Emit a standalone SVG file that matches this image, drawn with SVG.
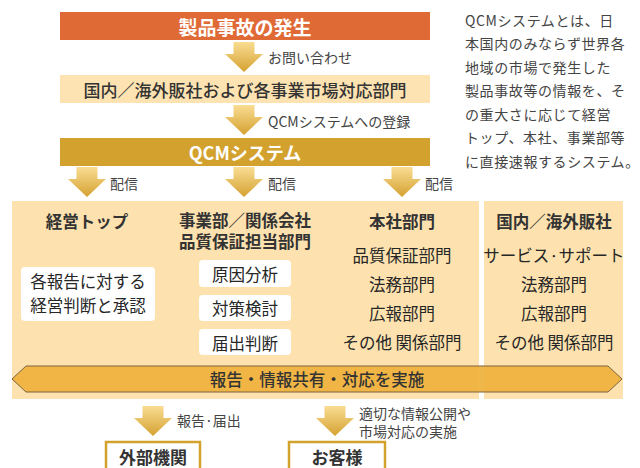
<svg xmlns="http://www.w3.org/2000/svg" width="640" height="468" viewBox="0 0 640 468">
<style>
text{font-family:"Noto Sans CJK JP","Noto Sans CJK SC",sans-serif;dominant-baseline:central;}
.c{text-anchor:middle;}
.wt{fill:#fff;font-weight:700;}
.lbl{font-size:14px;fill:#444;}
.hd{font-size:16.5px;font-weight:700;fill:#333;}
.it{font-size:16.5px;font-weight:400;fill:#262626;}
.para{font-size:14px;fill:#444;letter-spacing:0.6px;}
.wbox{fill:#fff;}
.panel{fill:#FDE2AF;}
.obox{fill:#fff;stroke:#D3A22C;stroke-width:2.5;}
</style>
<defs>
<linearGradient id="ag" x1="0" y1="0" x2="0" y2="1">
<stop offset="0" stop-color="#F9DD93"/>
<stop offset="1" stop-color="#D5A131"/>
</linearGradient>
<path id="arr" d="M-10.5,0 H10.5 V12 H19 L0,30 L-19,12 H-10.5 Z" fill="url(#ag)"/>
</defs>

<g id="incident">
<rect x="60" y="12" width="370" height="28" fill="#E06A36"/>
<text class="c wt" x="245" y="26" font-size="19">製品事故の発生</text>
</g>

<g id="sales-dept">
<rect x="60" y="75" width="370" height="28" fill="#FDE3B1"/>
<text class="c" x="245" y="89" font-size="17" font-weight="500" fill="#333">国内／海外販社および各事業市場対応部門</text>
</g>

<g id="qcm">
<rect x="60" y="138" width="370" height="28" fill="#D3A22E"/>
<text class="c wt" x="245" y="152" font-size="18">QCMシステム</text>
</g>

<g id="description">
<text class="para" x="465" y="19.5">QCMシステムとは、日<tspan x="465" y="43">本国内のみならず世界各</tspan><tspan x="465" y="66.5">地域の市場で発生した</tspan><tspan x="465" y="90">製品事故等の情報を、そ</tspan><tspan x="465" y="113.5">の重大さに応じて経営</tspan><tspan x="465" y="137">トップ、本社、事業部等</tspan><tspan x="465" y="160.5">に直接速報するシステム。</tspan></text>
</g>

<g id="panel-main">
<rect class="panel" x="12" y="201" width="467" height="198"/>
</g>
<g id="panel-sales">
<rect class="panel" x="484" y="201" width="139" height="198"/>
</g>

<g id="top-mgmt">
<text class="c hd" x="87" y="220.5">経営トップ</text>
<rect class="wbox" x="21" y="267" width="134" height="54" rx="4"/>
<text class="c it" x="88" y="281">各報告に対する<tspan x="88" y="305">経営判断と承認</tspan></text>
</g>

<g id="business-div">
<text class="c hd" x="245" y="220">事業部／関係会社<tspan x="245" y="241">品質保証担当部門</tspan></text>
</g>
<g id="cause-analysis">
<rect class="wbox" x="199" y="260" width="92" height="27" rx="4"/>
<text class="c it" x="245" y="273.5">原因分析</text>
</g>
<g id="countermeasure">
<rect class="wbox" x="199" y="295" width="92" height="26" rx="4"/>
<text class="c it" x="245" y="308">対策検討</text>
</g>
<g id="notification">
<rect class="wbox" x="199" y="329" width="92" height="26" rx="4"/>
<text class="c it" x="245" y="342.5">届出判断</text>
</g>

<g id="hq-dept">
<text class="c hd" x="402" y="220.5">本社部門</text>
<text class="c it" x="402" y="254.5">品質保証部門</text>
<text class="c it" x="402" y="283.5">法務部門</text>
<text class="c it" x="402" y="313">広報部門</text>
<text class="c it" x="402" y="341.5">その他 関係部門</text>
</g>

<g id="sales-companies">
<text class="c hd" x="554" y="220.5">国内／海外販社</text>
<text class="c it" x="554" y="254.5">サービス·サポート</text>
<text class="c it" x="554" y="283.5">法務部門</text>
<text class="c it" x="554" y="313">広報部門</text>
<text class="c it" x="554" y="341.5">その他 関係部門</text>
</g>

<g id="share-banner">
<path d="M12,379 L26,366 H608 L622,379 L608,392 H26 Z" fill="#EFB23D" fill-opacity="0.93" stroke="#7A6440" stroke-width="1"/>
<text class="c" x="317" y="379" font-size="16.5" font-weight="500" fill="#333">報告・情報共有・対応を実施</text>
</g>

<g id="external">
<rect class="obox" x="106" y="442" width="94" height="32"/>
<text class="c" x="153" y="456" font-size="17" font-weight="700" fill="#333">外部機関</text>
</g>
<g id="customers">
<rect class="obox" x="289" y="442" width="96" height="32"/>
<text class="c" x="337" y="456" font-size="17" font-weight="700" fill="#333">お客様</text>
</g>

<g id="connectors">
<use href="#arr" x="244" y="42"/>
<text class="lbl" x="268" y="57">お問い合わせ</text>
<use href="#arr" x="244" y="105"/>
<text class="lbl" x="268" y="120.5">QCMシステムへの登録</text>
<use href="#arr" x="87" y="167"/>
<text class="lbl" x="110" y="183">配信</text>
<use href="#arr" x="244" y="167"/>
<text class="lbl" x="268" y="183">配信</text>
<use href="#arr" x="402" y="167"/>
<text class="lbl" x="425" y="183">配信</text>
<use href="#arr" x="153" y="406"/>
<text class="lbl" x="177" y="420">報告·届出</text>
<use href="#arr" x="335" y="406"/>
<text class="lbl" x="359" y="413">適切な情報公開や<tspan x="359" y="431">市場対応の実施</tspan></text>
</g>
</svg>
